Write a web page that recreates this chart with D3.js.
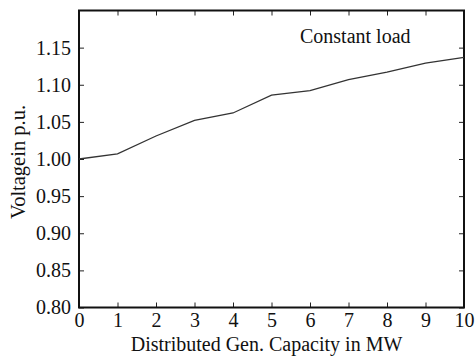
<!DOCTYPE html>
<html>
<head>
<meta charset="utf-8">
<script src="https://cdn.jsdelivr.net/npm/d3@7"></script>
<style>
  body { margin: 0; background: #fff; }
</style>
</head>
<body>
<div id="chart"></div>
<script>
// Distributed generation capacity (MW) vs voltage (p.u.)
const capacity = [0, 1, 2, 3, 4, 5, 6, 7, 8, 9, 10];
const voltage = [1.000, 1.007, 1.031, 1.052, 1.062, 1.086, 1.092, 1.107, 1.117, 1.129, 1.137];
const xTicks = [0, 1, 2, 3, 4, 5, 6, 7, 8, 9, 10];
const yTicks = [0.80, 0.85, 0.90, 0.95, 1.00, 1.05, 1.10, 1.15];
const seriesLabel = 'Constant load';

const serif = 'Liberation Serif';

const width = 475;
const height = 358;
const margin = { top: 10.5, right: 11, bottom: 50.5, left: 79 };
const innerW = width - margin.left - margin.right;
const innerH = height - margin.top - margin.bottom;

const svg = d3.select('#chart')
    .append('svg')
    .attr('width', width)
    .attr('height', height);

const g = svg.append('g')
    .attr('transform', `translate(${margin.left},${margin.top})`);

const xScale = d3.scaleLinear().domain([0, 10]).range([0, innerW]);
const yScale = d3.scaleLinear().domain([0.8, 1.2]).range([innerH, 0]);

// inward ticks on all four sides
const tickLen = 5;
g.append('g')
    .attr('transform', `translate(0,${innerH})`)
    .call(d3.axisBottom(xScale).tickValues(xTicks).tickSizeInner(-tickLen).tickSizeOuter(0).tickPadding(6).tickFormat(d3.format('d')))
    .call(a => a.select('.domain').remove())
    .call(a => a.selectAll('text').attr('dy', '0.66em'));

g.append('g')
    .call(d3.axisTop(xScale).tickValues(xTicks).tickSizeInner(-tickLen).tickSizeOuter(0).tickFormat(''))
    .call(a => a.select('.domain').remove());

g.append('g')
    .call(d3.axisLeft(yScale).tickValues(yTicks).tickSizeInner(-tickLen).tickSizeOuter(0).tickPadding(8).tickFormat(d3.format('.2f')))
    .call(a => a.select('.domain').remove());

g.append('g')
    .attr('transform', `translate(${innerW},0)`)
    .call(d3.axisRight(yScale).tickValues(yTicks).tickSizeInner(-tickLen).tickSizeOuter(0).tickFormat(''))
    .call(a => a.select('.domain').remove());

g.selectAll('.tick text')
    .attr('font-family', serif)
    .attr('font-size', 20)
    .attr('fill', '#111');
g.selectAll('.tick line').attr('stroke', '#222').attr('stroke-width', 1);

// frame
g.append('rect')
    .attr('width', innerW)
    .attr('height', innerH)
    .attr('fill', 'none')
    .attr('stroke', '#111')
    .attr('stroke-width', 2);

// the line
const line = d3.line()
    .x((d, i) => xScale(capacity[i]))
    .y(d => yScale(d));

g.append('path')
    .datum(voltage)
    .attr('fill', 'none')
    .attr('stroke', '#333')
    .attr('stroke-width', 1.3)
    .attr('d', line);

// label in plot
g.append('text')
    .attr('x', 221)
    .attr('y', 32.5)
    .attr('font-family', serif)
    .attr('font-size', 20)
    .attr('fill', '#111')
    .text(seriesLabel);

// axis titles
svg.append('text')
    .attr('x', margin.left + innerW / 2 - 5)
    .attr('y', 351)
    .attr('text-anchor', 'middle')
    .attr('font-family', serif)
    .attr('font-size', 20)
    .attr('fill', '#111')
    .text('Distributed Gen. Capacity in MW');

svg.append('text')
    .attr('transform', `translate(25,162) rotate(-90)`)
    .attr('text-anchor', 'middle')
    .attr('font-family', serif)
    .attr('font-size', 20.5)
    .attr('fill', '#111')
    .text('Voltagein p.u.');
</script>
</body>
</html>
